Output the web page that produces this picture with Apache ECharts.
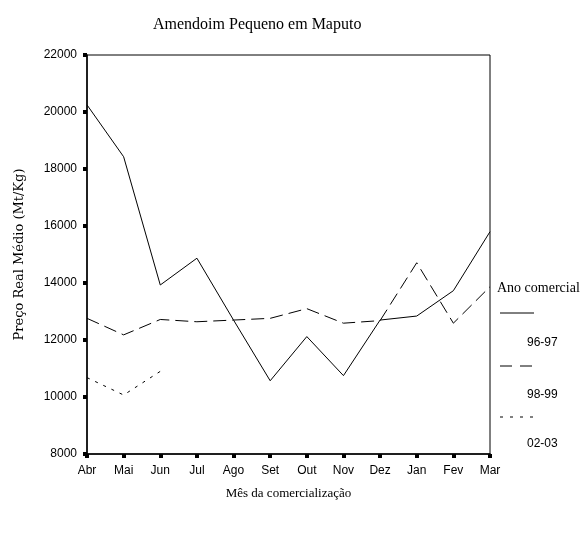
<!DOCTYPE html>
<html><head><meta charset="utf-8">
<script src="https://cdn.jsdelivr.net/npm/echarts@6/dist/echarts.min.js"></script>
<style>html,body{margin:0;padding:0;background:#fff}#c{width:583px;height:533px}</style>
</head><body><div id="c"></div>
<script>
const months = ['Abr','Mai','Jun','Jul','Ago','Set','Out','Nov','Dez','Jan','Fev','Mar'];
const s9697 = [20250,18430,13930,14870,12700,10570,12120,10750,12700,12840,13730,15800];
const s9899 = [12760,12180,12720,12640,12700,12760,13100,12590,12680,14710,12590,13870];
const s0203 = [10680,10070,10900,null,null,null,null,null,null,null,null,null];
const yTicks = [8000,10000,12000,14000,16000,18000,20000,22000];

const chart = echarts.init(document.getElementById('c'));
const serif = 'Liberation Serif';
const sans = 'Liberation Sans';
const lineSeries = (name, data, type) => ({
  name, type: 'line', data, showSymbol: false, symbol: 'none',
  lineStyle: {color: '#000', width: 1, type},
  connectNulls: false, animation: false
});
chart.setOption({
  animation: false,
  title: {text: 'Amendoim Pequeno em Maputo', left: 148, top: 12,
    textStyle: {fontFamily: serif, fontWeight: 'normal', fontSize: 16, color: '#000'}},
  grid: {left: 87, right: 93, top: 55, bottom: 79, show: true, borderColor: '#000', borderWidth: 1},
  xAxis: {type: 'category', data: months, boundaryGap: false,
    name: 'Mês da comercialização', nameLocation: 'middle', nameGap: 33,
    nameTextStyle: {fontFamily: serif, fontSize: 13, color: '#000'},
    axisLine: {lineStyle: {color: '#000', width: 1.5}},
    axisTick: {show: true, length: 4, lineStyle: {color: '#000', width: 4}, alignWithLabel: true},
    axisLabel: {fontFamily: sans, fontSize: 12, color: '#000', margin: 11, interval: 0},
    splitLine: {show: false}},
  yAxis: {type: 'value', min: yTicks[0], max: yTicks[yTicks.length-1], interval: 2000,
    name: 'Preço Real Médio (Mt/Kg)', nameLocation: 'middle', nameGap: 61,
    nameTextStyle: {fontFamily: 'DejaVu Serif', fontSize: 13, color: '#000'},
    axisLine: {show: true, lineStyle: {color: '#000', width: 1.5}},
    axisTick: {show: true, length: 4, lineStyle: {color: '#000', width: 4}},
    axisLabel: {fontFamily: sans, fontSize: 12, color: '#000', margin: 10, formatter: v => String(v)},
    splitLine: {show: false}},
  series: [
    lineSeries('96-97', s9697, 'solid'),
    lineSeries('98-99', s9899, [13, 6]),
    lineSeries('02-03', s0203, [3, 6])
  ],
  graphic: [
    {type: 'text', left: 497, top: 281, style: {text: 'Ano comercial', font: '14px "Liberation Serif"', fill: '#000'}},
    {type: 'line', shape: {x1: 500, y1: 313, x2: 534, y2: 313}, style: {stroke: '#000', lineWidth: 1}},
    {type: 'text', left: 527, top: 337, style: {text: '96-97', font: '12px "Liberation Sans"', fill: '#000'}},
    {type: 'line', shape: {x1: 500, y1: 366, x2: 534, y2: 366}, style: {stroke: '#000', lineWidth: 1, lineDash: [12, 8]}},
    {type: 'text', left: 527, top: 389, style: {text: '98-99', font: '12px "Liberation Sans"', fill: '#000'}},
    {type: 'line', shape: {x1: 500, y1: 417, x2: 534, y2: 417}, style: {stroke: '#000', lineWidth: 1, lineDash: [3, 7]}},
    {type: 'text', left: 527, top: 438, style: {text: '02-03', font: '12px "Liberation Sans"', fill: '#000'}}
  ]
});
</script></body></html>
